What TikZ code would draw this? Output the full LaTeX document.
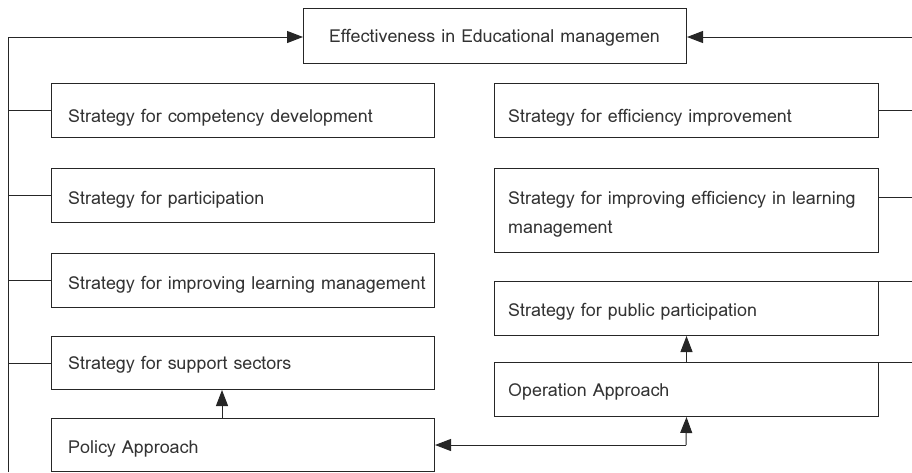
\documentclass[tikz,border=0pt]{standalone}
\usepackage{fontspec}
\newfontfamily\thaifont[Script=Thai]{Loma}
\usetikzlibrary{arrows.meta}
\begin{document}
\begin{tikzpicture}[x=1pt,y=-1pt,
  box/.style={draw=black!85,line width=1pt,rectangle,inner sep=0pt,anchor=north west},
  txt/.style={inner sep=0pt,anchor=base west,font=\thaifont\fontsize{17.9}{22}\selectfont,text=black!80},
  conn/.style={draw=black!85,line width=1pt},
  arr/.style={conn,-{Triangle[length=16pt,width=12pt]}}]
\useasboundingbox (0,0) rectangle (912,472);
% boxes
\node[box,minimum width=383pt,minimum height=55pt] (top) at (303,8) {};
\node[box,minimum width=383pt,minimum height=54pt] (b1) at (51,83) {};
\node[box,minimum width=383pt,minimum height=54pt] (b2) at (51,168) {};
\node[box,minimum width=383pt,minimum height=54pt] (b3) at (51,253) {};
\node[box,minimum width=383pt,minimum height=53pt] (b4) at (51,336) {};
\node[box,minimum width=383pt,minimum height=53pt] (pol) at (51,418) {};
\node[box,minimum width=384pt,minimum height=54pt] (r1) at (494,83) {};
\node[box,minimum width=384pt,minimum height=84pt] (r2) at (494,168) {};
\node[box,minimum width=384pt,minimum height=54pt] (r3) at (494,281) {};
\node[box,minimum width=384pt,minimum height=54pt] (op) at (494,362) {};
% texts
\node[txt] (ttop) at (329,42) {Effectiveness in Educational managemen};
\node[txt] (tb1) at (68,122.5) {Strategy for competency development};
\node[txt] (tb2) at (68,204) {Strategy for participation};
\node[txt] (tb3) at (68,289) {Strategy for improving learning management};
\node[txt] (tb4) at (68,369) {Strategy for support sectors};
\node[txt] (tpol) at (68,453) {Policy Approach};
\node[txt] (tr1) at (508,122.5) {Strategy for efficiency improvement};
\node[txt] (tr2a) at (508,204) {Strategy for improving efficiency in learning};
\node[txt] (tr2b) at (508,233) {management};
\node[txt] (tr3) at (508,316) {Strategy for public participation};
\node[txt] (top2) at (508,396) {Operation Approach};
% free ends
\coordinate (lb) at (8,472);
\coordinate (lt) at (8,37);
\coordinate (rt) at (912,37);
\coordinate (rx) at (912,0);
\coordinate (lx) at (8,0);
\coordinate (pm) at (686,445);
\coordinate (pa) at (222,0);
% left feedback
\draw[arr] (lb) -- (lt) -- (lt -| top.west);
\foreach \b in {b1,b2,b3,b4} \draw[conn] (\b.west) -- (\b.west -| lx);
% right feedback
\draw[arr] (rt) -- (rt -| top.east);
\draw[conn] (r1.east) -- (r1.east -| rx);
\draw[conn] ([yshift=-29pt]r2.north east) -- ([yshift=-29pt]r2.north east -| rx);
\draw[conn] (r3.north east) -- (r3.north east -| rx);
\draw[conn] (op.north east) -- (op.north east -| rx);
% vertical arrows
\draw[arr] (pa |- pol.north) -- (pa |- b4.south);
\draw[arr] (op.north) -- (r3.south);
\draw[arr] (pm) -- (op.south);
\draw[arr] (pm) -- (pm -| pol.east);
\end{tikzpicture}
\end{document}
